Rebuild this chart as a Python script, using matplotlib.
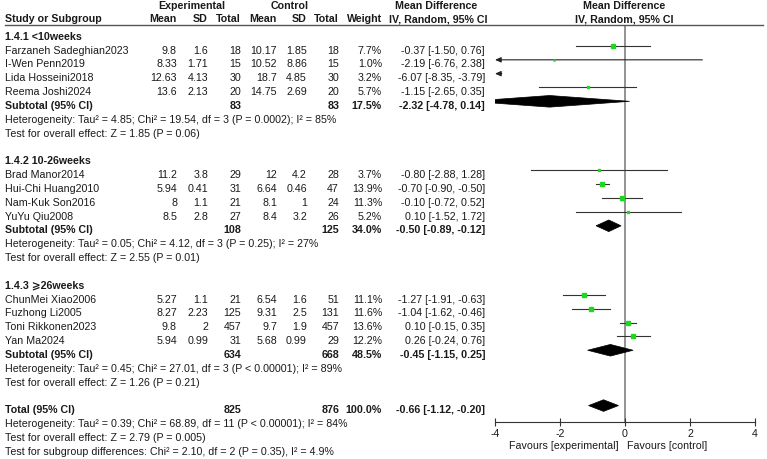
import matplotlib
matplotlib.use("Agg")
import matplotlib.pyplot as plt
from matplotlib.patches import Polygon
from matplotlib.lines import Line2D
from matplotlib.transforms import blended_transform_factory

plt.rcParams['font.family'] = ['Liberation Sans', 'DejaVu Sans']
plt.rcParams['font.size'] = 7.7

# ---- data ----
groups = ["1.4.1 <10weeks", "1.4.2 10-26weeks", "1.4.3 \u2a7e26weeks"]
studies = [
    ["Farzaneh Sadeghian2023", "I-Wen Penn2019", "Lida Hosseini2018", "Reema Joshi2024"],
    ["Brad Manor2014", "Hui-Chi Huang2010", "Nam-Kuk Son2016", "YuYu Qiu2008"],
    ["ChunMei Xiao2006", "Fuzhong Li2005", "Toni Rikkonen2023", "Yan Ma2024"],
]
expMean = [["9.8", "8.33", "12.63", "13.6"], ["11.2", "5.94", "8", "8.5"], ["5.27", "8.27", "9.8", "5.94"]]
expSD = [["1.6", "1.71", "4.13", "2.13"], ["3.8", "0.41", "1.1", "2.8"], ["1.1", "2.23", "2", "0.99"]]
expN = [[18, 15, 30, 20], [29, 31, 21, 27], [21, 125, 457, 31]]
ctlMean = [["10.17", "10.52", "18.7", "14.75"], ["12", "6.64", "8.1", "8.4"], ["6.54", "9.31", "9.7", "5.68"]]
ctlSD = [["1.85", "8.86", "4.85", "2.69"], ["4.2", "0.46", "1", "3.2"], ["1.6", "2.5", "1.9", "0.99"]]
ctlN = [[18, 15, 30, 20], [28, 47, 24, 26], [51, 131, 457, 29]]
weights = [[7.7, 1.0, 3.2, 5.7], [3.7, 13.9, 11.3, 5.2], [11.1, 11.6, 13.6, 12.2]]
md = [[-0.37, -2.19, -6.07, -1.15], [-0.80, -0.70, -0.10, 0.10], [-1.27, -1.04, 0.10, 0.26]]
mdLo = [[-1.50, -6.76, -8.35, -2.65], [-2.88, -0.90, -0.72, -1.52], [-1.91, -1.62, -0.15, -0.24]]
mdHi = [[0.76, 2.38, -3.79, 0.35], [1.28, -0.50, 0.52, 1.72], [-0.63, -0.46, 0.35, 0.76]]

subExpN = [83, 108, 634]
subCtlN = [83, 125, 668]
subWeight = ["17.5%", "34.0%", "48.5%"]
subMD = [-2.32, -0.50, -0.45]
subLo = [-4.78, -0.89, -1.15]
subHi = [0.14, -0.12, 0.25]
subHet = [
    "Heterogeneity: Tau\u00b2 = 4.85; Chi\u00b2 = 19.54, df = 3 (P = 0.0002); I\u00b2 = 85%",
    "Heterogeneity: Tau\u00b2 = 0.05; Chi\u00b2 = 4.12, df = 3 (P = 0.25); I\u00b2 = 27%",
    "Heterogeneity: Tau\u00b2 = 0.45; Chi\u00b2 = 27.01, df = 3 (P < 0.00001); I\u00b2 = 89%",
]
subTest = [
    "Test for overall effect: Z = 1.85 (P = 0.06)",
    "Test for overall effect: Z = 2.55 (P = 0.01)",
    "Test for overall effect: Z = 1.26 (P = 0.21)",
]
totExpN, totCtlN = 825, 876
totMD, totLo, totHi = -0.66, -1.12, -0.20
totHet = "Heterogeneity: Tau\u00b2 = 0.39; Chi\u00b2 = 68.89, df = 11 (P < 0.00001); I\u00b2 = 84%"
totTest = "Test for overall effect: Z = 2.79 (P = 0.005)"
subgroupTest = "Test for subgroup differences: Chi\u00b2 = 2.10, df = 2 (P = 0.35), I\u00b2 = 4.9%"
xTicks = [-4, -2, 0, 2, 4]

# ---- layout ----
W, H = 767, 460
fig = plt.figure(figsize=(W / 100, H / 100), dpi=100)
pitch = 13.83
row0 = 47
ax = fig.add_axes([495 / W, (H - 423) / H, 260 / W, (423 - 26) / H])
ax.set_xlim(-4, 4)
ax.set_ylim((423 - row0) / pitch, (26 - row0) / pitch)

trans = blended_transform_factory(fig.transFigure, ax.transData)
TXT = '#1a1a1a'
TOFF = 0.26  # text sits a little below the marks


def put(xpx, row, s, ha='right', bold=False):
    fig.text(xpx / W, row + TOFF, s, transform=trans, ha=ha, va='center',
             color=TXT, fontweight='bold' if bold else 'normal')


def diamond(mid, lo, hi, row, hh=0.42):
    poly = Polygon([(lo, row), (mid, row - hh), (hi, row), (mid, row + hh)],
                   closed=True, facecolor='black', edgecolor='black', lw=0.5)
    ax.add_patch(poly)


# columns (right edges in px)
cols = [177, 208, 241, 277, 307, 339, 382, 485]

# headers
y1 = 1 - 6 / H
fig.text(192 / W, y1, "Experimental", ha='center', va='center', fontweight='bold', color=TXT)
fig.text(290 / W, y1, "Control", ha='center', va='center', fontweight='bold', color=TXT)
fig.text(436 / W, y1, "Mean Difference", ha='center', va='center', fontweight='bold', color=TXT)
fig.text(624 / W, y1, "Mean Difference", ha='center', va='center', fontweight='bold', color=TXT)
y2 = 1 - 19.5 / H
fig.text(5 / W, y2, "Study or Subgroup", ha='left', va='center', fontweight='bold', color=TXT)
for c, s in zip(cols[:7], ["Mean", "SD", "Total", "Mean", "SD", "Total", "Weight"]):
    fig.text(c / W, y2, s, ha='right', va='center', fontweight='bold', color=TXT)
fig.text(438 / W, y2, "IV, Random, 95% CI", ha='center', va='center', fontweight='bold', color=TXT)
fig.text(624 / W, y2, "IV, Random, 95% CI", ha='center', va='center', fontweight='bold', color=TXT)
fig.add_artist(Line2D([5 / W, 763 / W], [1 - 26 / H] * 2, transform=fig.transFigure,
                      color='#555555', lw=1))

ax.axvline(0, color='#8a8a8a', lw=1.3, zorder=1)

row = -1
for g in range(len(groups)):
    put(5, row, groups[g], ha='left', bold=True)
    row += 1
    for i in range(len(studies[g])):
        put(5, row, studies[g][i], ha='left')
        vals = [expMean[g][i], expSD[g][i], str(expN[g][i]), ctlMean[g][i], ctlSD[g][i],
                str(ctlN[g][i]), "%.1f%%" % weights[g][i],
                "%.2f [%.2f, %.2f]" % (md[g][i], mdLo[g][i], mdHi[g][i])]
        for c, s in zip(cols, vals):
            put(c, row, s)
        lo, hi = mdLo[g][i], mdHi[g][i]
        if lo < -4:
            # CI runs off the left edge: draw it with an arrow at -4
            ax.annotate('', xy=(-4, row), xytext=(min(hi, 4), row),
                        arrowprops=dict(arrowstyle='-|>,head_length=0.45,head_width=0.2',
                                        color='#222222', lw=0.8, shrinkA=0, shrinkB=0))
        else:
            ax.plot([lo, min(hi, 4)], [row, row], color='#333333', lw=0.8, zorder=2)
        if -4 <= md[g][i] <= 4:
            ax.plot(md[g][i], row, marker='s', color='#1ed81e', mec='#1ed81e',
                    markersize=0.83 * weights[g][i] ** 0.5, zorder=3, ls='none')
        row += 1
    put(5, row, "Subtotal (95% CI)", ha='left', bold=True)
    put(cols[2], row, str(subExpN[g]), bold=True)
    put(cols[5], row, str(subCtlN[g]), bold=True)
    put(cols[6], row, subWeight[g], bold=True)
    put(cols[7], row, "%.2f [%.2f, %.2f]" % (subMD[g], subLo[g], subHi[g]), bold=True)
    diamond(subMD[g], subLo[g], subHi[g], row)
    row += 1
    put(5, row, subHet[g], ha='left')
    row += 1
    put(5, row, subTest[g], ha='left')
    row += 2

put(5, row, "Total (95% CI)", ha='left', bold=True)
put(cols[2], row, str(totExpN), bold=True)
put(cols[5], row, str(totCtlN), bold=True)
put(cols[6], row, "100.0%", bold=True)
put(cols[7], row, "%.2f [%.2f, %.2f]" % (totMD, totLo, totHi), bold=True)
diamond(totMD, totLo, totHi, row)
put(5, row + 1, totHet, ha='left')
put(5, row + 2, totTest, ha='left')
put(5, row + 3, subgroupTest, ha='left')

for s in ['top', 'left', 'right']:
    ax.spines[s].set_visible(False)
ax.spines['bottom'].set_color('#333333')
ax.spines['bottom'].set_bounds(-4, 4)
ax.set_yticks([])
ax.set_xticks(xTicks)
ax.set_xticklabels([str(t) for t in xTicks])
ax.tick_params(axis='x', direction='inout', length=6, width=0.8, colors='#333333',
               labelcolor=TXT, pad=1)
ax.patch.set_visible(False)

fig.text(619 / W, 1 - 446 / H, "Favours [experimental]", ha='right', va='center', color=TXT)
fig.text(627 / W, 1 - 446 / H, "Favours [control]", ha='left', va='center', color=TXT)

fig.savefig("out.png", dpi=100)
